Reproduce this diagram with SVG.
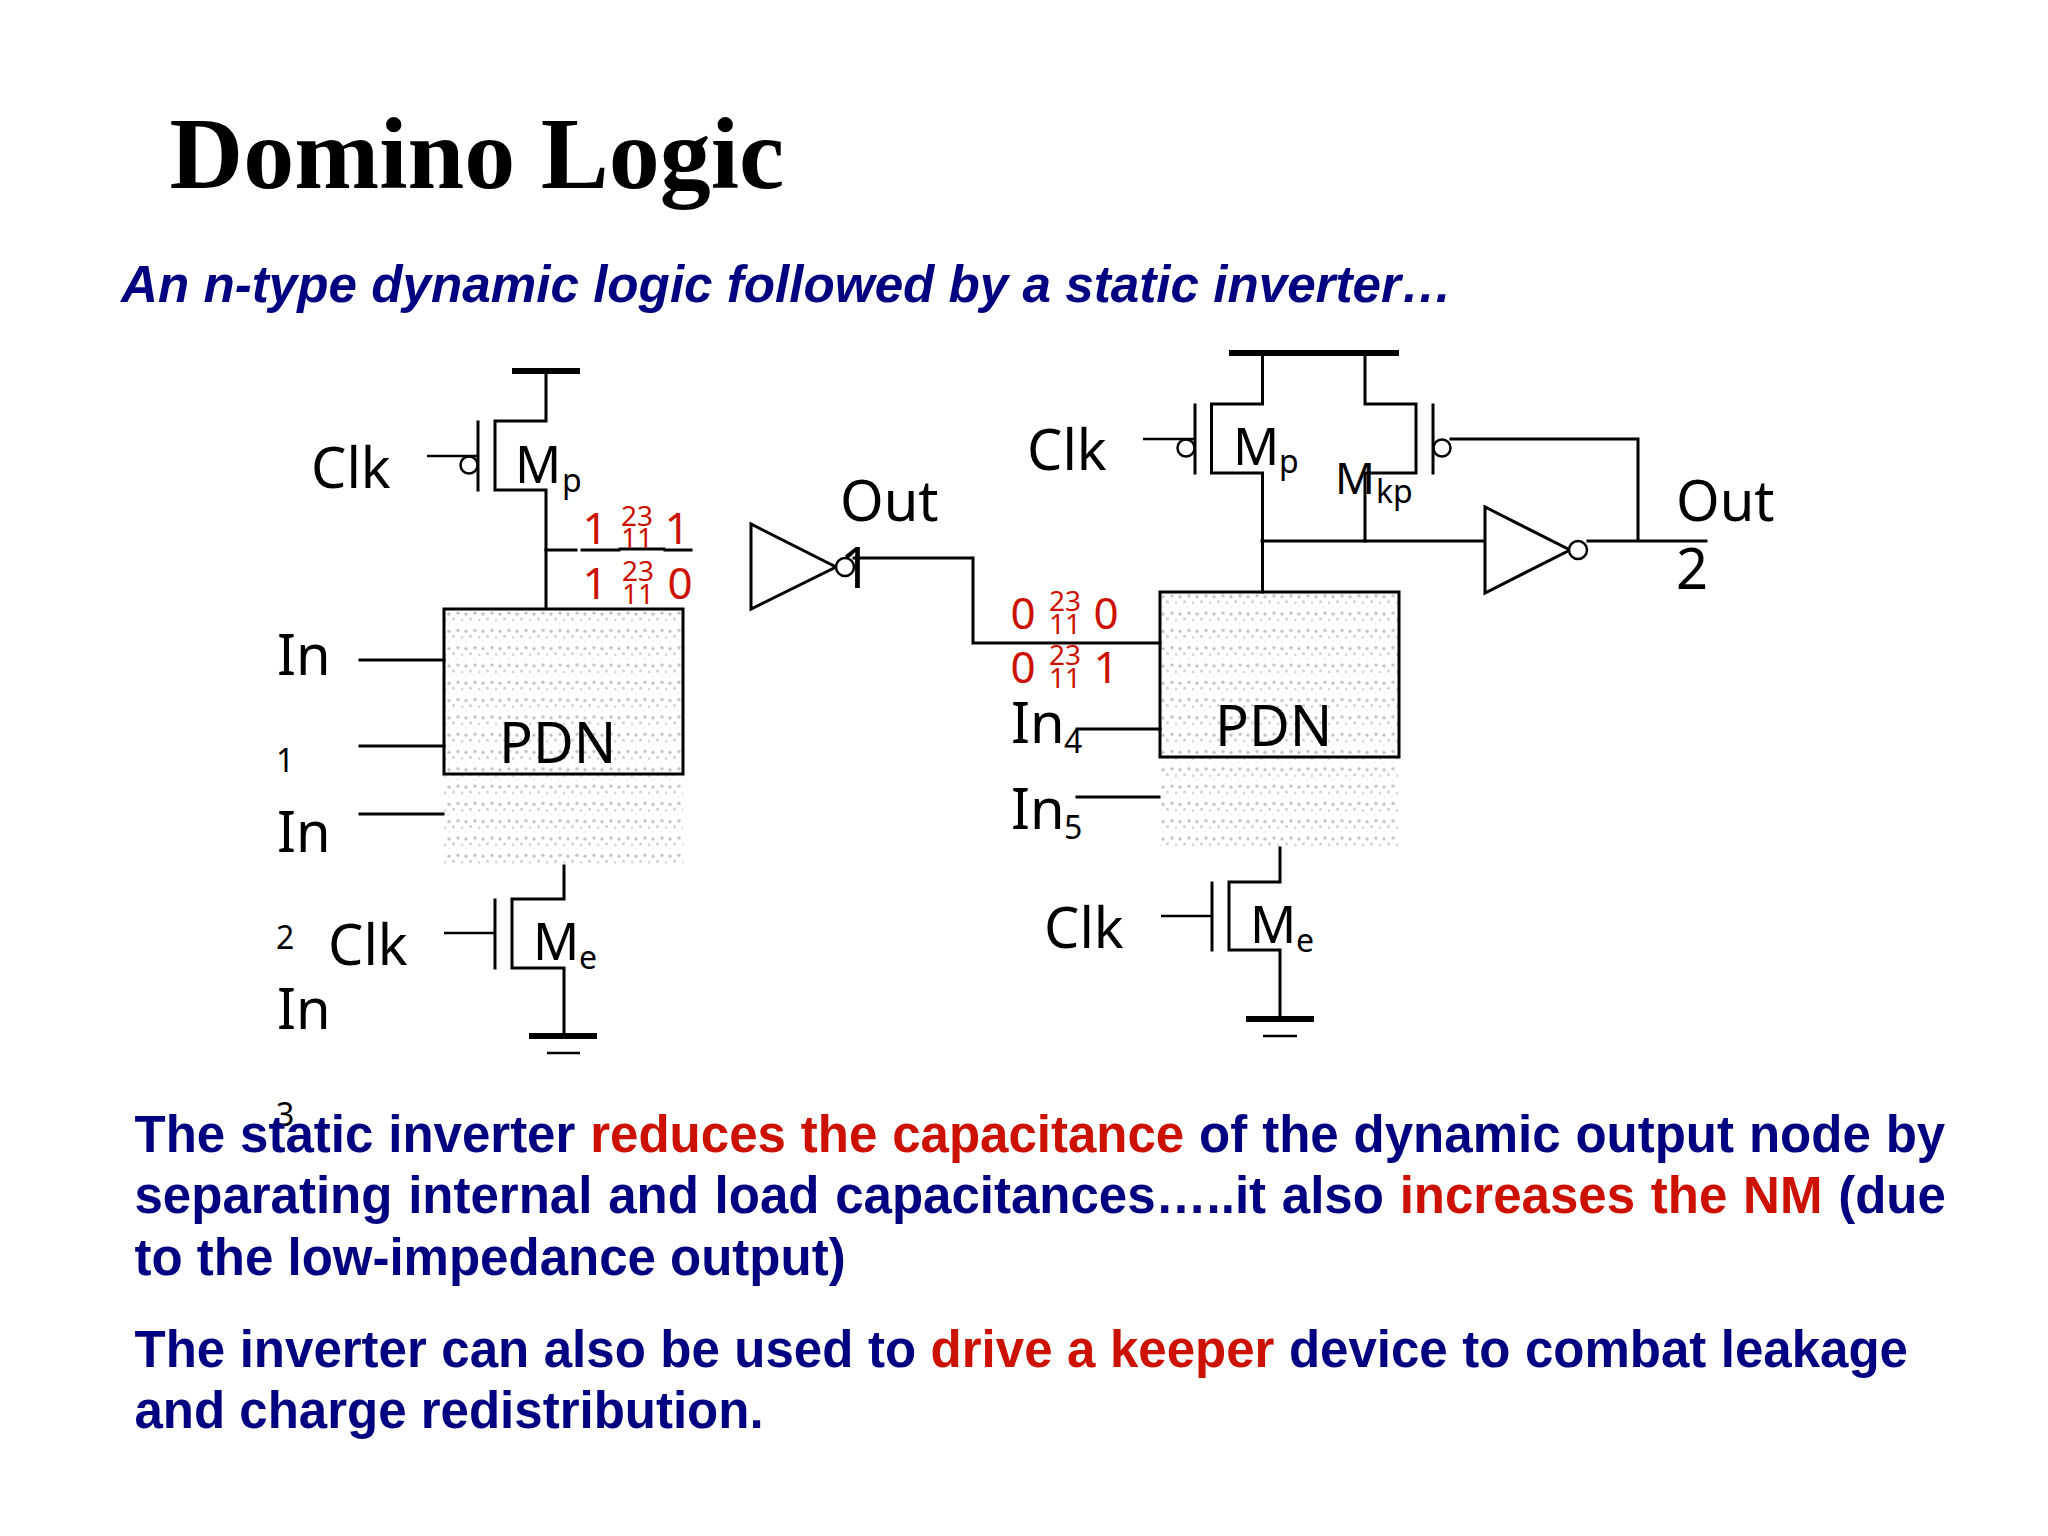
<svg xmlns="http://www.w3.org/2000/svg" width="2048" height="1536" viewBox="0 0 2048 1536">
<defs>
<style>
text{font-family:"Noto Sans","Open Sans",sans-serif;fill:#000}
.w{fill:none;stroke:#000;stroke-width:3;stroke-linecap:square;stroke-linejoin:miter}
.bar{fill:none;stroke:#000;stroke-width:6}
.th{fill:none;stroke:#000;stroke-width:2.5}
.b{fill:#fff;stroke:#000;stroke-width:2.5}
.box{fill:none;stroke:#000;stroke-width:3}
.tri{fill:#fff;stroke:#000;stroke-width:3}
.big{font-size:56px}
.m{font-size:51px}
.sub{font-size:32px}
.r{font-size:44px;fill:#cc1100;text-anchor:middle}
.rs{font-size:28px;fill:#cc1100;text-anchor:middle}
.body{font-family:"Liberation Sans",Arial,sans-serif;font-weight:700;font-size:51px;fill:#000080}
.body tspan.h{fill:#cc1100}
</style>
<pattern id="st" width="17" height="17.3" patternUnits="userSpaceOnUse" x="444" y="609">
<g><circle cx="5" cy="5" r="1.7" fill="#c4c4c4"/><circle cx="14" cy="4" r="1.7" fill="#c4c4c4"/><circle cx="9.500" cy="10" r="1.5" fill="#d0d0d0"/><circle cx="1" cy="11" r="1.5" fill="#d8d8d8"/><circle cx="5" cy="15" r="1" fill="#eeeeee"/><circle cx="13" cy="15" r="1" fill="#eeeeee"/></g>
</pattern>
</defs>
<rect width="2048" height="1536" fill="#fff"/>
<text id="title" x="169.5" y="187.5" font-weight="700" font-size="102" style="font-family:'Liberation Serif',serif">Domino Logic</text>
<text id="subtitle" x="121" y="302" style="font-family:'Liberation Sans',sans-serif;font-weight:700;font-style:italic;font-size:51.2px;fill:#000080">An n-type dynamic logic followed by a static inverter…</text>

<rect id="stipple1" x="444" y="609" width="239" height="256" fill="url(#st)"/>
<rect id="stipple2" x="1160" y="592" width="239" height="256" fill="url(#st)"/>

<g id="connectors">
<path class="w" d="M546 371V421H495V490H546V608"/>
<path class="th" d="M427 456H478"/>
<path class="w" d="M546 550H576M582 550H619M620 549H664M665 550H691"/>
<path class="w" d="M360 660H444M360 746H444M360 814H443"/>
<path class="w" d="M564 866V899H512V968H564V1036"/>
<path class="th" d="M444 933H495"/>
<path class="w" d="M854 558H973V643H1160"/>
<path class="w" d="M1077 729H1160M1077 797H1159"/>
<path class="w" d="M1262.500 353V404H1211.500V473H1262.500V592"/>
<path class="th" d="M1143 439H1195"/>
<path class="w" d="M1365 353V404H1416V473H1365V541"/>
<path class="w" d="M1262 541H1485"/>
<path class="w" d="M1451 439H1638V541M1588 541H1706"/>
<path class="w" d="M1280 848V882H1229V950H1280V1019"/>
<path class="th" d="M1161 916H1212"/>
</g>

<g id="vdd1"><path class="bar" d="M512 371H580"/></g>
<g id="mp1"><path class="w" d="M478 422V490"/><circle class="b" cx="469" cy="465" r="8.5"/><text class="big" x="311" y="488">Clk</text><text class="m" x="515" y="483">M</text><text class="sub" x="562" y="492">p</text></g>
<g id="values1">
<text class="r" x="595" y="544">1</text><text class="rs" x="637" y="526">23</text><text class="rs" x="637" y="548">11</text><text class="r" x="677" y="544">1</text>
<text class="r" x="595" y="599">1</text><text class="rs" x="638" y="581">23</text><text class="rs" x="638" y="604">11</text><text class="r" x="680" y="599">0</text>
</g>
<g id="pdn1"><rect class="box" x="444" y="609" width="239" height="165"/><text class="big" x="499" y="763">PDN</text></g>
<g id="inputs1">
<text class="big" x="277" y="675">In</text><text class="sub" x="276" y="772">1</text>
<text class="big" x="277" y="852">In</text><text class="sub" x="276" y="949">2</text>
<text class="big" x="277" y="1029">In</text><text class="sub" x="276" y="1126">3</text>
</g>
<g id="me1"><path class="w" d="M495 900V968"/><text class="big" x="328" y="965">Clk</text><text class="m" x="533" y="960">M</text><text class="sub" x="579" y="969">e</text></g>
<g id="gnd1"><path class="bar" d="M529 1036H597"/><path class="th" d="M547 1053H580"/></g>
<g id="inv1"><path class="tri" d="M751 524V609L836 567Z"/><circle class="b" cx="845" cy="567" r="9"/><text class="big" x="840" y="521">Out</text><text class="big" x="840" y="588">1</text></g>

<g id="vdd2"><path class="bar" d="M1229 353H1399"/></g>
<g id="mp2"><path class="w" d="M1195 405V473"/><circle class="b" cx="1186" cy="448" r="8.5"/><text class="big" x="1027" y="470">Clk</text><text class="m" x="1233" y="465">M</text><text class="sub" x="1279" y="473">p</text></g>
<g id="mkp"><path class="w" d="M1433 405V473"/><circle class="b" cx="1442" cy="448" r="8.5"/><text x="1335" y="494" style="font-size:44px">M</text><text class="sub" x="1376" y="503">kp</text></g>
<g id="inv2"><path class="tri" d="M1485 507V593L1570 550Z"/><circle class="b" cx="1578" cy="550" r="9"/><text class="big" x="1676" y="521">Out</text><text class="big" x="1676" y="589">2</text></g>
<g id="values2">
<text class="r" x="1023" y="629">0</text><text class="rs" x="1065" y="611">23</text><text class="rs" x="1065" y="634">11</text><text class="r" x="1106" y="629">0</text>
<text class="r" x="1023" y="683">0</text><text class="rs" x="1065" y="665">23</text><text class="rs" x="1065" y="688">11</text><text class="r" x="1106" y="683">1</text>
</g>
<g id="pdn2"><rect class="box" x="1160" y="592" width="239" height="165"/><text class="big" x="1215" y="746">PDN</text></g>
<g id="inputs2"><text class="big" x="1011" y="743">In</text><text class="sub" x="1064" y="753">4</text><text class="big" x="1011" y="829">In</text><text class="sub" x="1064" y="839">5</text></g>
<g id="me2"><path class="w" d="M1212 883V950"/><text class="big" x="1044" y="948">Clk</text><text class="m" x="1250" y="943">M</text><text class="sub" x="1296" y="952">e</text></g>
<g id="gnd2"><path class="bar" d="M1246 1019H1314"/><path class="th" d="M1263 1036H1297"/></g>

<g id="body">
<text class="body" x="134.500" y="1152" word-spacing="0.75">The static inverter <tspan class="h">reduces the capacitance</tspan> of the dynamic output node by</text>
<text class="body" x="134.500" y="1213" word-spacing="1.6">separating internal and load capacitances…..it also <tspan class="h">increases the NM</tspan> (due</text>
<text class="body" x="134.500" y="1275">to the low-impedance output)</text>
<text class="body" x="134.500" y="1367" word-spacing="0.36">The inverter can also be used to <tspan class="h">drive a keeper</tspan> device to combat leakage</text>
<text class="body" x="134.500" y="1428">and charge redistribution.</text>
</g>
</svg>
